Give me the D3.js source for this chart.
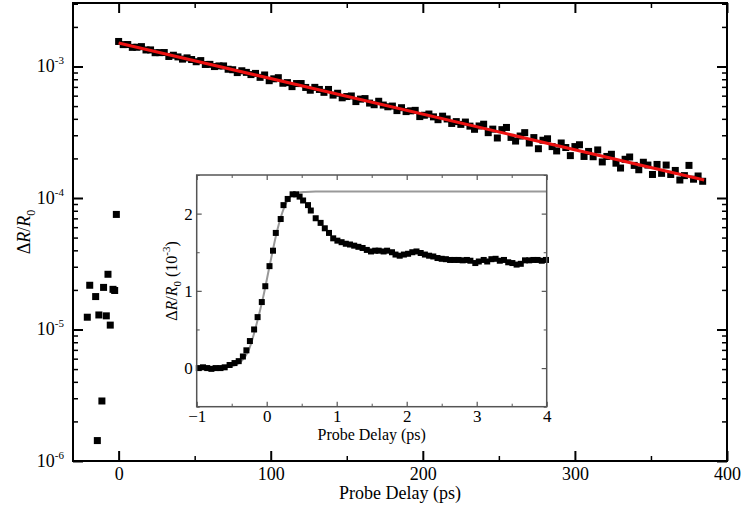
<!DOCTYPE html>
<html><head><meta charset="utf-8">
<script src="https://cdn.jsdelivr.net/npm/d3@7"></script>
<style>
html,body{margin:0;padding:0;background:#fff;}
text{font-family:"Liberation Serif","Times New Roman",serif;fill:#000;}
</style></head>
<body><svg id="c" width="743" height="514"></svg>
<script>
// ---- main panel data (ΔR/R0 vs probe delay, ps) ----
const preT = [-20.6, -19, -15.1, -14, -13, -11, -9.9, -8.1, -7, -5.5, -3.7, -2.6, -1.5];
const preV = [1.24e-5, 2.17e-5, 1.78e-5, 1.43e-6, 1.29e-5, 2.86e-6, 2.09e-5, 1.27e-5, 2.63e-5, 1.08e-5, 2.02e-5, 1.98e-5, 7.5e-5];
const decayStart = 0, decayStep = 3;          // ps
const decayV_e4 = [                            // values in units of 1e-4
  15.5, 14.67, 14.69, 13.98, 14.01, 14.16, 13.36, 13.37, 12.73, 12.75,
  12.77, 11.92, 12.18, 11.83, 11.38, 11.63, 11.30, 10.87, 11.09, 10.36,
  10.38, 9.99, 10.10, 10.10, 9.53, 9.45, 8.99, 9.28, 9.02, 8.68,
  8.86, 8.27, 8.62, 7.80, 8.06, 8.22, 7.46, 7.54, 7.03, 7.42,
  7.42, 6.93, 6.60, 6.94, 6.69, 6.36, 6.69, 6.06, 6.26, 5.78,
  5.91, 5.97, 5.41, 5.65, 5.70, 5.27, 5.12, 5.44, 5.09, 4.94,
  5.00, 4.62, 4.86, 4.54, 4.60, 4.64, 4.16, 4.26, 4.35, 4.14,
  3.94, 4.19, 3.99, 3.69, 3.81, 3.63, 3.78, 3.52, 3.33, 3.53,
  3.64, 3.14, 3.34, 2.86, 3.31, 3.44, 2.89, 2.71, 2.96, 3.14,
  2.62, 2.88, 2.37, 2.75, 2.82, 2.46, 2.28, 2.62, 2.42, 2.10,
  2.46, 2.54, 2.07, 2.26, 2.06, 2.32, 1.88, 2.07, 2.15, 1.84,
  1.69, 1.97, 2.05, 1.77, 1.64, 1.87, 1.78, 1.51, 1.80, 1.54,
  1.78, 1.51, 1.62, 1.37, 1.48, 1.77, 1.39, 1.47, 1.34
];
const fitT = [0, 385];
const fitV = [1.51e-3, 1.37e-4];
const mainXTicks = [0, 100, 200, 300, 400];
const mainXMinor = [50, 150, 250, 350];
const mainYTicks = [1e-6, 1e-5, 1e-4, 1e-3];
const mainYExp = ["-6", "-5", "-4", "-3"];

// ---- inset data (ΔR/R0 in 1e-3 vs probe delay, ps) ----
const insetT = [-0.97,-0.91,-0.85,-0.79,-0.73,-0.66,-0.60,-0.53,-0.46,-0.40,-0.34,-0.29,-0.24,-0.18,-0.13,-0.07,-0.02,0.04,0.09,0.13,0.20,0.24,0.30,0.37,0.42,0.47,0.52,0.59,0.63,0.70,0.77,0.83,0.89,0.95,1.01,1.07,1.13,1.19,1.25,1.31,1.37,1.43,1.49,1.55,1.60,1.67,1.72,1.79,1.84,1.90,1.96,2.02,2.08,2.14,2.20,2.26,2.32,2.38,2.44,2.50,2.56,2.62,2.68,2.74,2.80,2.86,2.91,2.98,3.03,3.10,3.15,3.21,3.27,3.33,3.39,3.45,3.51,3.57,3.63,3.69,3.75,3.81,3.87,3.93,3.99];
const insetV = [0.00,0.01,0.00,-0.01,0.00,0.00,0.01,0.04,0.065,0.09,0.15,0.23,0.35,0.50,0.66,0.855,1.06,1.32,1.52,1.75,1.93,2.11,2.19,2.25,2.25,2.22,2.17,2.11,2.04,1.94,1.88,1.81,1.75,1.68,1.65,1.63,1.61,1.60,1.585,1.57,1.555,1.53,1.51,1.52,1.52,1.51,1.52,1.50,1.47,1.455,1.47,1.48,1.50,1.51,1.49,1.47,1.455,1.445,1.425,1.415,1.41,1.40,1.40,1.40,1.395,1.40,1.39,1.36,1.38,1.40,1.38,1.41,1.415,1.39,1.40,1.37,1.36,1.34,1.35,1.395,1.395,1.40,1.40,1.39,1.40];
const insetFitT = [-1, -0.6, -0.45, -0.35, -0.25, -0.15, -0.05, 0.05, 0.15, 0.25, 0.35, 0.45, 0.55, 0.7, 1.0, 4.0];
const insetFitV = [0, 0.01, 0.04, 0.10, 0.25, 0.55, 0.92, 1.36, 1.78, 2.08, 2.23, 2.27, 2.28, 2.285, 2.285, 2.285];
const insetXTicks = [-1, 0, 1, 2, 3, 4];
const insetXMinor = [-0.5, 0.5, 1.5, 2.5, 3.5];
const insetYTicks = [0, 1, 2];
const insetYMinor = [-0.5, 0.5, 1.5, 2.5];

const svg = d3.select("#c");

// ===== main panel =====
const L = 73, R = 727, T = 3, B = 461;
const x = d3.scaleLinear().domain([-30, 400]).range([L, R]);
const y = d3.scaleLog().domain([1e-6, 3.04e-3]).range([B, T]);

const minorY = [];
for (let e = -6; e <= -3; e++) for (let m = 2; m <= 9; m++) { const v = m * Math.pow(10, e); if (v < 3.04e-3) minorY.push(v); }

function styleAxis(g, w) { g.select(".domain").remove(); g.selectAll("line").attr("stroke", "#000").attr("stroke-width", w); }

svg.append("g").attr("transform", `translate(${L},0)`).call(d3.axisLeft(y).tickValues(mainYTicks).tickSize(-10).tickFormat("")).call(g => styleAxis(g, 2));
svg.append("g").attr("transform", `translate(${L},0)`).call(d3.axisLeft(y).tickValues(minorY).tickSize(-5).tickFormat("")).call(g => styleAxis(g, 1.5));
svg.append("g").attr("transform", `translate(${R},0)`).call(d3.axisRight(y).tickValues(mainYTicks).tickSize(-10).tickFormat("")).call(g => styleAxis(g, 2));
svg.append("g").attr("transform", `translate(${R},0)`).call(d3.axisRight(y).tickValues(minorY).tickSize(-5).tickFormat("")).call(g => styleAxis(g, 1.5));

const xb = svg.append("g").attr("transform", `translate(0,${B})`).call(d3.axisBottom(x).tickValues(mainXTicks).tickSize(-10).tickPadding(6).tickFormat(d3.format("d")));
xb.select(".domain").remove(); xb.selectAll("line").attr("stroke", "#000").attr("stroke-width", 2);
xb.selectAll("text").attr("font-size", 18).style("font-family", "Liberation Serif, serif");
svg.append("g").attr("transform", `translate(0,${B})`).call(d3.axisBottom(x).tickValues(mainXMinor).tickSize(-5).tickFormat("")).call(g => styleAxis(g, 1.5));
svg.append("g").attr("transform", `translate(0,${T})`).call(d3.axisTop(x).tickValues(mainXTicks).tickSize(-10).tickFormat("")).call(g => styleAxis(g, 2));
svg.append("g").attr("transform", `translate(0,${T})`).call(d3.axisTop(x).tickValues(mainXMinor).tickSize(-5).tickFormat("")).call(g => styleAxis(g, 1.5));

// y labels 10^n
mainYTicks.forEach((v, i) => {
  const t = svg.append("text").attr("x", L - 9).attr("y", y(v) + 6).attr("text-anchor", "end").attr("font-size", 18);
  t.append("tspan").text("10");
  t.append("tspan").attr("font-size", 11).attr("dy", -8).text(mainYExp[i]);
});

svg.append("rect").attr("x", L).attr("y", T).attr("width", R - L).attr("height", B - T).attr("fill", "none").attr("stroke", "#000").attr("stroke-width", 2);

// data
const decay = decayV_e4.map((v, i) => [decayStart + i * decayStep, v * 1e-4]);
const pre = preT.map((t, i) => [t, preV[i]]);
const sq = 7;
svg.append("g").selectAll("rect").data(pre.concat(decay)).join("rect")
  .attr("x", d => x(d[0]) - sq / 2).attr("y", d => y(d[1]) - sq / 2).attr("width", sq).attr("height", sq).attr("fill", "#000");
svg.append("path").datum(fitT.map((t, i) => [t, fitV[i]])).attr("fill", "none").attr("stroke", "#ee1111").attr("stroke-width", 3)
  .attr("d", d3.line().x(d => x(d[0])).y(d => y(d[1])));

svg.append("text").attr("x", (L + R) / 2).attr("y", 499).attr("text-anchor", "middle").attr("font-size", 18).text("Probe Delay (ps)");
const yt = svg.append("text").attr("transform", `translate(30,${(T + B) / 2}) rotate(-90)`).attr("text-anchor", "middle").attr("font-size", 18);
yt.append("tspan").text("Δ");
yt.append("tspan").attr("font-style", "italic").text("R");
yt.append("tspan").text("/");
yt.append("tspan").attr("font-style", "italic").text("R");
yt.append("tspan").attr("font-size", 12).attr("dy", 5).text("0");

// ===== inset =====
const iL = 196.7, iR = 546.7, iT = 175, iB = 406.7;
const ix = d3.scaleLinear().domain([-1, 4]).range([iL, iR]);
const iy = d3.scaleLinear().domain([-0.5, 2.5]).range([iB, iT]);
svg.append("rect").attr("x", iL).attr("y", iT).attr("width", iR - iL).attr("height", iB - iT).attr("fill", "#fff");
const ic = "#555";
function styleI(g, w) { g.select(".domain").remove(); g.selectAll("line").attr("stroke", ic).attr("stroke-width", w); }
svg.append("g").attr("transform", `translate(${iL},0)`).call(d3.axisLeft(iy).tickValues(insetYTicks).tickSize(-5).tickPadding(4).tickFormat(d3.format("d")))
  .call(g => { styleI(g, 1.2); g.selectAll("text").attr("font-size", 17).style("font-family", "Liberation Serif, serif"); });
svg.append("g").attr("transform", `translate(${iL},0)`).call(d3.axisLeft(iy).tickValues(insetYMinor).tickSize(-3).tickFormat("")).call(g => styleI(g, 1));
svg.append("g").attr("transform", `translate(${iR},0)`).call(d3.axisRight(iy).tickValues(insetYTicks).tickSize(-5).tickFormat("")).call(g => styleI(g, 1.2));
svg.append("g").attr("transform", `translate(${iR},0)`).call(d3.axisRight(iy).tickValues(insetYMinor).tickSize(-3).tickFormat("")).call(g => styleI(g, 1));
svg.append("g").attr("transform", `translate(0,${iB})`).call(d3.axisBottom(ix).tickValues(insetXTicks).tickSize(-5).tickPadding(3).tickFormat(d3.format("d")))
  .call(g => { styleI(g, 1.2); g.selectAll("text").attr("font-size", 17).style("font-family", "Liberation Serif, serif"); });
svg.append("g").attr("transform", `translate(0,${iB})`).call(d3.axisBottom(ix).tickValues(insetXMinor).tickSize(-3).tickFormat("")).call(g => styleI(g, 1));
svg.append("g").attr("transform", `translate(0,${iT})`).call(d3.axisTop(ix).tickValues(insetXTicks).tickSize(-5).tickFormat("")).call(g => styleI(g, 1.2));
svg.append("g").attr("transform", `translate(0,${iT})`).call(d3.axisTop(ix).tickValues(insetXMinor).tickSize(-3).tickFormat("")).call(g => styleI(g, 1));

svg.append("path").datum(insetFitT.map((t, i) => [t, insetFitV[i]])).attr("fill", "none").attr("stroke", "#999").attr("stroke-width", 2)
  .attr("d", d3.line().curve(d3.curveMonotoneX).x(d => ix(d[0])).y(d => iy(d[1])));
const isq = 6;
svg.append("g").selectAll("rect").data(insetT.map((t, i) => [t, insetV[i]])).join("rect")
  .attr("x", d => ix(d[0]) - isq / 2).attr("y", d => iy(d[1]) - isq / 2).attr("width", isq).attr("height", isq).attr("fill", "#000");
svg.append("rect").attr("x", iL).attr("y", iT).attr("width", iR - iL).attr("height", iB - iT).attr("fill", "none").attr("stroke", ic).attr("stroke-width", 1.5);

svg.append("text").attr("x", (iL + iR) / 2).attr("y", 440).attr("text-anchor", "middle").attr("font-size", 16).text("Probe Delay (ps)");
const it = svg.append("text").attr("transform", `translate(177,281) rotate(-90)`).attr("text-anchor", "middle").attr("font-size", 16);
it.append("tspan").text("Δ");
it.append("tspan").attr("font-style", "italic").text("R");
it.append("tspan").text("/");
it.append("tspan").attr("font-style", "italic").text("R");
it.append("tspan").attr("font-size", 11).attr("dy", 4).text("0");
it.append("tspan").attr("dy", -4).text(" (10");
it.append("tspan").attr("font-size", 11).attr("dy", -7).text("-3");
it.append("tspan").attr("dy", 7).text(")");
</script></body></html>
